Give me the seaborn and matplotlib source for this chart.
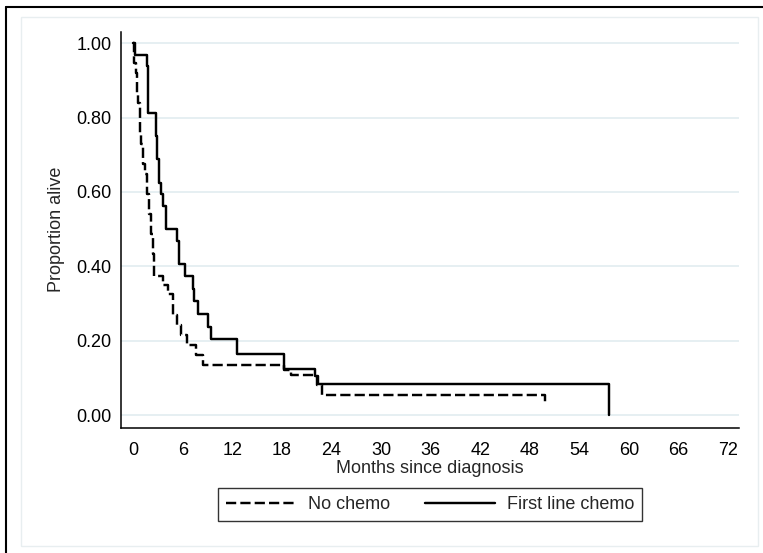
import numpy as np
import pandas as pd
import matplotlib
matplotlib.use("Agg")
import matplotlib.pyplot as plt
from matplotlib.lines import Line2D
from matplotlib.patches import Rectangle
import seaborn as sns

# Kaplan-Meier step points (time in months, proportion alive)
no_chemo_months = [0, 0.05, 0.3, 0.45, 0.6, 0.75, 0.95, 1.15, 1.4, 1.65, 1.9, 2.15, 2.35, 2.55,
                   3.55, 4.2, 4.75, 5.3, 5.75, 6.5, 7.6, 8.4, 18.2, 19.1, 22.2, 22.8, 49.85]
no_chemo_surv = [1.0, 0.946, 0.919, 0.865, 0.838, 0.757, 0.730, 0.676, 0.649, 0.595, 0.541, 0.486, 0.432, 0.373,
                 0.351, 0.325, 0.270, 0.243, 0.216, 0.189, 0.162, 0.135, 0.122, 0.108, 0.081, 0.054, 0.027]

chemo_months = [0, 0.15, 1.6, 1.8, 2.7, 2.9, 3.1, 3.35, 3.65, 3.95, 5.25, 5.5, 6.3, 7.2, 7.4,
                7.8, 9.1, 9.4, 12.5, 18.2, 22.0, 22.3, 57.6]
chemo_surv = [1.0, 0.969, 0.938, 0.8125, 0.75, 0.688, 0.625, 0.594, 0.5625, 0.50, 0.469, 0.406, 0.375, 0.34, 0.306,
              0.272, 0.238, 0.204, 0.163, 0.125, 0.104, 0.083, 0.0]

groups = ["No chemo", "First line chemo"]
x_ticks = list(range(0, 73, 6))
y_ticks = [0.0, 0.2, 0.4, 0.6, 0.8, 1.0]

df = pd.concat([
    pd.DataFrame({"months": no_chemo_months, "surv": no_chemo_surv, "group": groups[0]}),
    pd.DataFrame({"months": chemo_months, "surv": chemo_surv, "group": groups[1]}),
], ignore_index=True)

sns.set_theme(style="white")
plt.rcParams["font.family"] = ["Liberation Sans", "DejaVu Sans"]

fig = plt.figure(figsize=(7.63, 5.53), dpi=100)
ax = fig.add_axes([0.1582, 0.2266, 0.811, 0.7161])

# light horizontal gridlines
for yv in y_ticks:
    ax.axhline(yv, color="#e4eef1", lw=1.3, zorder=0)

sns.lineplot(data=df, x="months", y="surv", hue="group", style="group",
             palette={groups[0]: "black", groups[1]: "black"},
             dashes={groups[0]: (4.2, 1.7), groups[1]: ""},
             estimator=None, sort=False, drawstyle="steps-post",
             linewidth=1.75, legend=False, ax=ax)

ax.set_xlim(-1.53, 73.4)
ax.set_ylim(-0.034, 1.031)
ax.set_xticks(x_ticks)
ax.set_yticks(y_ticks)
ax.set_yticklabels([f"{v:.2f}" for v in y_ticks])
ax.set_xlabel("Months since diagnosis", fontsize=13, labelpad=1)
ax.set_ylabel("Proportion alive", fontsize=13, labelpad=8)
ax.tick_params(axis="both", labelsize=13, direction="out", color="black", width=1, colors="black")
ax.tick_params(axis="x", length=5, pad=5)
ax.tick_params(axis="y", length=4.5, pad=2)
ax.grid(False)
for side in ["top", "right"]:
    ax.spines[side].set_visible(False)
for side in ["left", "bottom"]:
    ax.spines[side].set_color("black")
    ax.spines[side].set_linewidth(1.1)

handles = [
    Line2D([], [], color="black", lw=1.75, dashes=(4.2, 1.7)),
    Line2D([], [], color="black", lw=1.75),
]
leg = fig.legend(handles, groups, loc="center", bbox_to_anchor=(0.5636, 0.0874), ncol=2,
                 fontsize=13, frameon=True, fancybox=False, edgecolor="black",
                 handlelength=3.9, handletextpad=0.65, columnspacing=1.9, borderpad=0.45)
leg.get_frame().set_linewidth(1.0)

# outer graph frame (black top/left edge and faint inner border)
fig.add_artist(Line2D([0.0085, 1.0], [0.988, 0.988], color="black", lw=1.5, transform=fig.transFigure))
fig.add_artist(Line2D([0.0085, 0.0085], [0.0, 0.988], color="black", lw=1.5, transform=fig.transFigure))
fig.add_artist(Rectangle((0.027, 0.0127), 0.9664, 0.956, transform=fig.transFigure,
                         fill=False, edgecolor="#e8eef0", lw=1.0))

fig.savefig("out.png", dpi=100)
